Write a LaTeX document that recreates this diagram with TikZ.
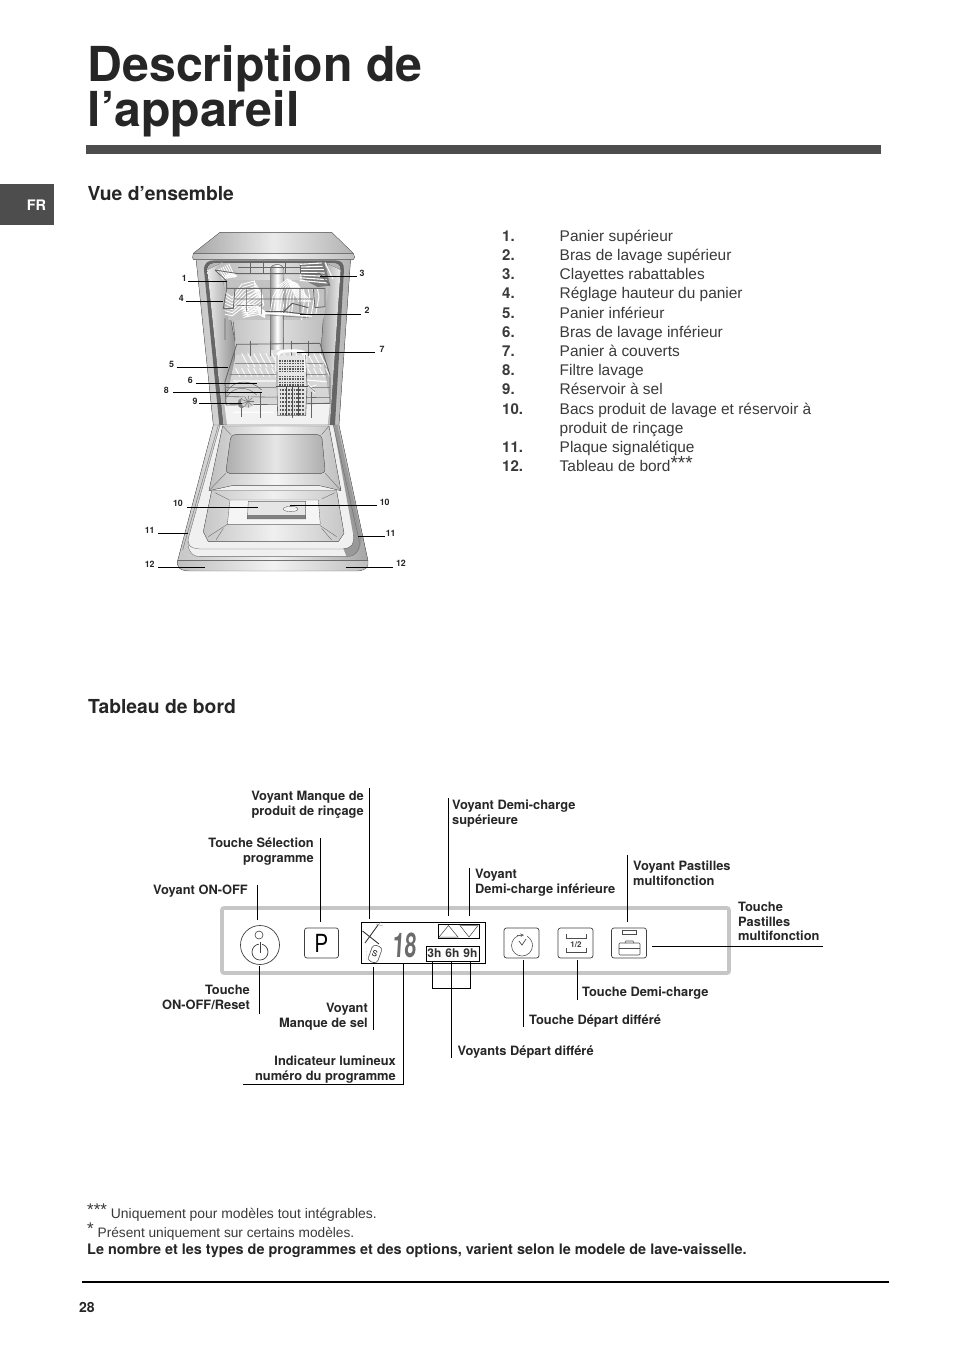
\documentclass[tikz,border=0pt]{standalone}
\usepackage{fontspec}
\setmainfont{TeX Gyre Heros}
\newfontfamily\lightfont{Liberation Sans}
\usetikzlibrary{calc}
\definecolor{darkband}{HTML}{4D4D4D}
\definecolor{bodytext}{HTML}{3A3A3A}
\definecolor{panelgrey}{HTML}{C6C6C6}
\newcommand{\fs}[1]{\fontsize{#1}{#1}\selectfont}
\newcommand{\leader}[3]{\coordinate (#1a) at (#2);\coordinate (#1b) at (#3);\draw[leaderline] (#1a) -- (#1b);}
\tikzset{
  leaderline/.style={line width=0.75pt,black},
  titletext/.style={inner sep=0,anchor=base west,font=\bfseries\fs{48.2},text=black!85},
  headtext/.style={inner sep=0,anchor=base west,font=\bfseries\fs{19.3},text=black!85},
  numtext/.style={inner sep=0,anchor=base west,font=\bfseries\fs{15},text=bodytext},
  listtext/.style={inner sep=0,anchor=base west,font=\lightfont\fs{15.45},text=bodytext},
  partno/.style={inner sep=0,font=\bfseries\fs{8.8},text=black!85},
  lblE/.style={inner sep=0,anchor=east,align=right,font=\bfseries\fontsize{12.85}{14.6}\selectfont,text=black!85},
  lblW/.style={inner sep=0,anchor=west,align=left,font=\bfseries\fontsize{12.85}{14.6}\selectfont,text=black!85},
  keybox/.style={draw=black!75,line width=0.7pt,rounded corners=2.5pt,fill=white},
  fine/.style={draw=black!60,line width=0.35pt},
  wire/.style={draw=black!60,line width=0.55pt},
  whitewire/.style={draw=white,line width=0.9pt},
}
\begin{document}
\begin{tikzpicture}[x=1pt,y=-1pt]
\useasboundingbox (0,0) rectangle (954,1350);
\fill[white] (0,0) rectangle (954,1350);
% headings
\node[titletext] (t1) at (87.5,81) {Description de};
\node[titletext] (t2) at (87.5,126) {l’appareil};
\fill[darkband] (86,145) rectangle (881,154);
\fill[darkband] (0,184) rectangle (54,225);
\node[inner sep=0,font=\bfseries\fs{14.5},text=white] (fr) at (36.5,205) {FR};
\node[headtext] (h1) at (87.5,200) {Vue d’ensemble};
\node[headtext] (h2) at (88,713) {Tableau de bord};
% list
\foreach \n/\y/\num/\txt in {
 a/241/1./Panier supérieur,
 b/260/2./Bras de lavage supérieur,
 c/279/3./Clayettes rabattables,
 d/298/4./Réglage hauteur du panier,
 e/318/5./Panier inférieur,
 f/337/6./Bras de lavage inférieur,
 g/356/7./Panier à couverts,
 h/375/8./Filtre lavage,
 i/394/9./Réservoir à sel,
 j/414/10./Bacs produit de lavage et réservoir à,
 l/452/11./Plaque signalétique}{
  \node[numtext] (n\n) at (502,\y) {\num};
  \node[listtext] (x\n) at (559.5,\y) {\txt};
}
\node[listtext] (xk) at (559.5,433) {produit de rinçage};
\node[numtext] (nm) at (502,471) {12.};
\node[listtext] (xm) at (559.5,471) {Tableau de bord\raisebox{1.5pt}{\fs{19}***}};

% ---------- dishwasher, upper part (zoom coordinates)
\begin{scope}[shift={(140,225)},x=0.3333pt,y=-0.3333pt]
 % top
 \fill[left color=black!35,right color=black!30,middle color=black!8] (240,22) -- (575,22) -- (640,85) -- (160,85) -- cycle;
 \draw[fine] (240,22) -- (575,22) -- (640,85) -- (160,85) -- cycle;
 % tub body
 \fill[left color=black!22,right color=black!30,middle color=black!5] (168,100) -- (632,100) -- (597,600) -- (220,600) -- cycle;
 \draw[fine] (168,100) -- (220,600) (632,100) -- (597,600);
 % dark gasket and interior
 \fill[black!60] (192,135) .. controls (192,112) and (205,106) .. (225,106) -- (585,106) .. controls (605,106) and (612,115) .. (612,135) -- (585,600) -- (238,600) -- cycle;
 \fill[left color=black!30,right color=black!30,middle color=black!12] (202,135) .. controls (202,118) and (212,114) .. (228,114) -- (582,114) .. controls (596,114) and (602,122) .. (602,135) -- (570,600) -- (250,600) -- cycle;
 % side walls
 \fill[left color=black!8,right color=black!42] (202,135) -- (240,116) -- (285,350) -- (278,600) -- (250,600) -- cycle;
 \fill[left color=black!42,right color=black!8] (562,116) -- (602,135) -- (570,600) -- (535,600) -- (545,350) -- cycle;
 \draw[fine] (240,116) -- (285,350) (562,116) -- (545,350);
 % front strip
 \fill[left color=black!25,right color=black!25,middle color=black!4] (160,85) -- (640,85) -- (644,97) -- (640,104) -- (160,104) -- (158,97) -- cycle;
 \draw[fine] (160,85) -- (640,85) -- (644,97) -- (640,104) -- (160,104) -- (158,97) -- cycle;
 \draw[black!45,line width=0.8pt] (350,104) -- (375,104) (415,104) -- (445,104);
 % shade behind the upper rack
 \fill[black!24] (250,165) -- (570,165) -- (550,285) -- (265,285) -- cycle;
 % central pipe
 \fill[left color=black!40,right color=black!30,middle color=white] (391,135) .. controls (391,113) and (432,113) .. (432,135) -- (430,375) -- (391,375) -- cycle;
 \draw[fine] (391,135) .. controls (391,113) and (432,113) .. (432,135) -- (430,375) (391,135) -- (391,375);

 % UPPER RACK (origin 195,90 of the drawing's grid)
 \begin{scope}[shift={(195,90)}]
  % left plate panel
  \fill[black!25] (30,42) -- (50,22) -- (98,52) -- (68,80) -- (50,82) -- cycle;
  \foreach \k in {0,...,6}{
   \draw[whitewire] ({35+\k*6},{44-\k*3}) -- ({54+\k*6},{72-\k*1}) -- ({78+\k*3},{50+\k*2});
  }
  % right flap
  \fill[black!52] (283,26) -- (358,22) -- (376,92) -- (338,96) -- (292,72) -- cycle;
  \foreach \k in {0,...,6}{\draw[white,line width=1.1pt] (284,{28+\k*8}) -- ({350+\k*3},{24+\k*10});}
  \draw[white,line width=1pt] (360,22) -- (384,72);
  % basket rails and hanging frame
  \draw[wire] (135,24) -- (135,55) (175,24) -- (175,55) (240,24) -- (240,55) (285,30) -- (285,55) (100,38) -- (285,38);
  % zigzag plate wires
  \foreach \k in {0,...,6}{
   \draw[whitewire] (60,{112+\k*11}) -- (82,{128+\k*9}) -- ({110+\k*4},{88+\k*9}) -- ({148+\k*4},{78+\k*7}) -- ({152+\k*4},{108+\k*7}) -- ({124+\k*3},{132+\k*7}) -- ({108+\k*2},{150+\k*6}) -- ({150+\k*2},{148+\k*5}) -- (180,{170+\k*3});
  }
  \foreach \k in {0,...,7}{
   \draw[whitewire] ({196+\k*9},{172+\k*1}) -- ({204+\k*9},{125-\k*1}) -- ({222+\k*7},{92+\k*1}) -- ({248+\k*4},{72+\k*2}) -- ({262+\k*4},105) -- ({282+\k*5},140);
  }
  \foreach \k in {0,...,3}{
   \draw[whitewire] ({290+\k*14},{195-\k*5}) -- ({300+\k*14},{125}) -- ({295+\k*14},{100});
  }
  % frame
  \draw[wire,line width=0.85pt] (30,45) -- (100,56) -- (345,56) -- (375,92) (30,45) -- (65,78) -- (65,100) -- (360,100) -- (360,155) -- (330,158) -- (325,100)
    (65,100) -- (55,160) -- (85,160) -- (90,100);
  \draw[wire] (125,100) -- (125,170) (170,100) -- (170,178) (240,100) -- (240,172) (285,100) -- (285,172) (90,132) -- (325,132) (95,152) -- (170,150);
  \draw[wire] (60,255) -- (60,190) (90,255) -- (85,200);
  % spray arm
  \draw[white,line width=2pt] (180,174) -- (320,182);
  \draw[black!65,line width=0.9pt] (182,170) -- (238,170) -- (320,180) (238,168) -- (262,145) -- (310,158) ;
  \draw[black!55,line width=0.5pt] (185,180) -- (310,188);
 \end{scope}

 % LOWER RACK (origin 225,330 of the drawing's grid)
 \begin{scope}[shift={(225,330)}]
  \fill[black!16] (62,60) -- (322,58) -- (345,205) -- (32,205) -- cycle;
  \fill[black!5] (28,205) -- (345,205) -- (338,270) -- (36,270) -- cycle;
  \foreach \k in {0,...,13}{\draw[whitewire,line width=0.9pt] ({80+\k*18},55) -- ({102+\k*18},96);}
  \foreach \k in {0,...,15}{\draw[whitewire,line width=0.8pt] ({62+\k*18},100) -- ({75+\k*18},125);}
  \draw[white,line width=1.2pt] (55,138) -- (185,138) (270,135) -- (335,140) (55,232) -- (175,232);
  % rack wires
  \draw[wire,line width=0.85pt] (65,28) -- (315,25) -- (345,120) -- (345,205) -- (33,210) -- (30,140) -- cycle;
  \draw[wire] (60,85) -- (325,85) (45,118) -- (335,118) (30,158) -- (345,158) (35,185) -- (345,188);
  \draw[wire] (105,18) -- (105,62) (165,18) -- (165,62) (228,18) -- (228,62) (280,18) -- (280,62);
  \draw[wire] (80,190) -- (80,245) (137,170) -- (137,248) (232,190) -- (232,248) (290,170) -- (290,248);
  % filter curves
  \draw[black!60,line width=0.5pt] (35,170) .. controls (60,130) and (110,135) .. (140,165);
  \draw[black!55,line width=0.5pt] (35,185) .. controls (60,150) and (100,155) .. (125,180);
  % salt reservoir
  \fill[black!50] (80,205) ellipse (12 and 15);
  \fill[black!18] (98,200) ellipse (20 and 18);
  \foreach \a in {0,40,...,320}{\draw[black!55,line width=0.5pt] (98,200) -- ++(\a:18);}
  % right detail
  \draw[white,line width=0.8pt] (270,160) -- (305,150) (280,145) -- (300,175);
  \draw[black!55,line width=0.4pt] (278,150) -- (300,170);
  % cutlery basket
  \fill[black!10] (186,62) -- (272,62) -- (275,150) -- (272,242) -- (188,242) -- (183,150) -- cycle;
  \draw[white,line width=3pt] (186,110) -- (186,66) .. controls (190,50) and (200,48) .. (215,48) -- (245,48) .. controls (262,48) and (272,52) .. (272,66) -- (272,110);
  \foreach \y in {78,86,94,102,110,124,132,142,150}{\draw[black!65,densely dotted,line width=1.6pt] (192,\y) -- (266,\y);}
  \foreach \y in {165,177,189,201,213,225,237}{\draw[black!65,densely dotted,line width=1.8pt] (194,\y) -- (268,\y);}
  \draw[black!60,line width=0.6pt] (186,60) -- (186,155) -- (188,242) -- (272,242) -- (276,155) -- (272,60);
  \draw[black!70,line width=0.8pt] (183,155) -- (278,155);
  \foreach \x in {215,232,250}{\draw[black!70,line width=0.7pt] (\x,155) -- (\x,243);}
 \end{scope}

 % leaders
 \leader{p1}{145,170}{262,170}
 \leader{p4}{138,230}{250,230}
 \leader{p3}{540,155}{650,155}
 \leader{p2}{480,268}{662,268}
 \leader{p7}{470,381}{705,381}
 \leader{p5}{110,428}{265,428}
 \leader{p6}{168,475}{350,475}
 \leader{p8}{100,501}{365,501}
 \leader{p9}{178,535}{305,535}
 \node[partno] (q1) at (133,160) {1};
 \node[partno] (q4) at (124,221) {4};
 \node[partno] (q3) at (666,146) {3};
 \node[partno] (q2) at (681,256) {2};
 \node[partno] (q7) at (726,372) {7};
 \node[partno] (q5) at (95,419) {5};
 \node[partno] (q6) at (151,465) {6};
 \node[partno] (q8) at (79,495) {8};
 \node[partno] (q9) at (165,528) {9};
\end{scope}

% ---------- dishwasher, door (zoom coordinates)
\begin{scope}[shift={(140,400)},x=0.3333pt,y=-0.3333pt]
 % door
 \fill[left color=black!22,right color=black!35,middle color=black!6] (220,75) -- (597,75) -- (684,482) -- (113,482) -- cycle;
 \draw[fine] (220,75) -- (597,75) -- (684,482) -- (113,482) -- cycle;
 \draw[fine] (235,75) -- (128,450);
 % basin
 \fill[black!6] (240,75) -- (580,75) -- (655,410) .. controls (665,445) and (650,470) .. (620,470) -- (180,470) .. controls (155,470) and (140,450) .. (145,415) -- cycle;
 \fill[black!40] (580,75) -- (592,75) -- (665,410) .. controls (665,445) and (650,470) .. (620,470) -- (610,445) .. controls (635,445) and (645,430) .. (640,405) -- cycle;
 \draw[fine] (240,75) -- (580,75) -- (655,410) .. controls (665,445) and (650,470) .. (620,470) -- (180,470) .. controls (155,470) and (140,450) .. (145,415) -- cycle;
 \draw[fine] (145,425) .. controls (145,445) and (165,445) .. (180,447) -- (610,447) .. controls (635,445) and (645,430) .. (640,405);
 % upper recess
 \fill[left color=black!25,right color=black!25,middle color=black!4] (248,78) -- (567,78) -- (603,272) -- (535,256) -- (280,256) -- (207,272) -- cycle;
 \draw[fine] (248,78) -- (567,78) -- (603,272) -- (535,256) -- (280,256) -- (207,272) -- cycle;
 \fill[left color=black!32,right color=black!32,middle color=black!10,rounded corners=4pt] (273,104) -- (545,104) -- (556,220) -- (257,220) -- cycle;
 \draw[fine,rounded corners=4pt] (273,104) -- (545,104) -- (556,220) -- (257,220) -- cycle;
 \draw[fine] (248,78) -- (273,104) (567,78) -- (545,104) (257,220) -- (207,272) (556,220) -- (603,272);
 % lower recess
 \fill[left color=black!22,right color=black!22,middle color=black!6] (215,272) -- (590,272) -- (612,400) -- (595,425) -- (205,425) -- (190,395) -- cycle;
 \draw[fine] (215,272) -- (190,395) -- (205,425) -- (595,425) -- (612,400) -- (590,272);
 \fill[black!4] (270,300) -- (535,300) -- (541,373) -- (262,373) -- cycle;
 \draw[fine] (270,300) -- (535,300) -- (541,373) -- (262,373) -- cycle;
 \draw[fine] (225,278) -- (268,300) (545,297) -- (585,278) (262,373) -- (205,410) (228,420) -- (250,385) (541,377) -- (590,410) (575,420) -- (545,385);
 % dispenser
 \fill[black!10] (325,304) -- (497,304) -- (497,357) -- (322,357) -- cycle;
 \fill[black!50] (322,345) -- (497,345) -- (497,357) -- (322,357) -- cycle;
 \draw[fine] (325,304) -- (497,304) -- (497,357) -- (322,357) -- cycle;
 \draw[black!60,line width=0.4pt,fill=black!5] (452,327) ellipse (22 and 8);
 % front strip
 \fill[left color=black!25,right color=black!25,middle color=black!5] (113,482) -- (684,482) -- (684,495) .. controls (680,508) and (665,513) .. (650,513) -- (150,513) .. controls (130,513) and (115,508) .. (113,495) -- cycle;
 \draw[fine] (113,482) -- (684,482) -- (684,495) .. controls (680,508) and (665,513) .. (650,513) -- (150,513) .. controls (130,513) and (115,508) .. (113,495) -- cycle;
 % leaders
 \leader{p10l}{140,322}{355,322}
 \leader{p10r}{450,316}{710,316}
 \leader{p11l}{55,400}{145,400}
 \leader{p11r}{655,408}{735,408}
 \leader{p12l}{55,503}{195,503}
 \leader{p12r}{618,503}{760,503}
 \node[partno] (q10l) at (114,310) {10};
 \node[partno] (q10r) at (734,306) {10};
 \node[partno] (q11l) at (29,390) {11};
 \node[partno] (q11r) at (752,399) {11};
 \node[partno] (q12l) at (29,493) {12};
 \node[partno] (q12r) at (783,489) {12};
\end{scope}

% ---------- control panel
\draw[panelgrey,line width=3.6pt,rounded corners=2pt] (222,908) rectangle (729,973);
\node[draw=black!75,line width=0.7pt,circle,minimum size=39pt,inner sep=0] (onoff) at (260,945) {};
\node[draw=black!75,line width=0.6pt,circle,minimum size=8pt,inner sep=0] (onled) at (259,935) {};
\node[draw=black!75,line width=0.7pt,circle,minimum size=16pt,inner sep=0] (onring) at (260,952) {};
\draw[white,line width=3pt] (260,943) -- (260,946);
\draw[black!75,line width=0.7pt] (260,942) -- (260,953);
\node[keybox,minimum width=34pt,minimum height=30pt,inner sep=0,font=\lightfont\fs{24}] (pkey) at (321.5,943) {\scalebox{0.85}[1.1]{P}};
\node[draw=black,line width=0.8pt,minimum width=124pt,minimum height=41pt,inner sep=0] (disp) at (423.5,942.5) {};
\node[draw=black,line width=0.8pt,minimum width=41pt,minimum height=14pt,inner sep=0] (arrows) at (458.5,931) {};
\draw[black!75,line width=0.5pt] (439,937) -- (448.5,925.5) -- (458,937) -- cycle;
\draw[black!75,line width=0.5pt] (460,925.5) -- (478,925.5) -- (469,937) -- cycle;
\node[draw=black,line width=0.8pt,minimum width=53pt,minimum height=15pt,inner sep=0,font=\bfseries\fs{12},text=black!80] (hours) at (452.5,953.5) {3h\hspace{4pt}6h\hspace{4pt}9h};
\node[inner sep=0,font=\bfseries\fs{34},text=black!58] (seg) at (404.5,945.5) {\scalebox{0.62}[1]{\fontspec{TeX Gyre Heros}[FakeSlant=0.1]18}};
% salt and rinse symbols
\draw[black!80,line width=0.9pt] (362.5,931) -- (379,944) (365,943) -- (378,925);
\draw[black!50,line width=0.35pt] (378,925) -- (381,921.5) (376,924) -- (383,926);
\node[draw=black!70,line width=0.6pt,rounded corners=3.5pt,rotate=-20,minimum width=10pt,minimum height=17pt,inner sep=0,font=\fs{8}] (salt) at (375,954) {S};
\draw[black!30,densely dotted] (366,947) -- (367,960);
% right keys
\node[keybox,minimum width=35pt,minimum height=30pt,inner sep=0] (delay) at (521.5,943) {};
\draw[black!65,line width=0.6pt] (522,935) arc (90:420:10.5pt);
\draw[black!65,line width=0.6pt,-stealth] (517,935.5) -- (524,935);
\draw[black!70,line width=0.7pt] (519,941) -- (522,945) -- (526,939);
\node[keybox,minimum width=35pt,minimum height=30pt,inner sep=0] (half) at (575.5,943) {};
\draw[black!70,line width=0.7pt] (566,934) -- (566,938) -- (586,938) -- (586,934);
\draw[black!70,line width=0.7pt] (566,948) -- (566,952) -- (586,952) -- (586,948);
\node[inner sep=0,font=\bfseries\fs{8},text=black!75] (halft) at (576,945) {1/2};
\node[keybox,minimum width=35pt,minimum height=30pt,inner sep=0] (tab) at (629,943) {};
\draw[black!70,line width=0.6pt] (622,930.5) rectangle (636,934.5);
\draw[black!70,line width=0.6pt,rounded corners=1pt] (619,943) rectangle (640,955);
\draw[black!70,line width=0.6pt] (619,948.5) -- (640,948.5);
\draw[black!70,line width=0.6pt] (625,943) -- (626,941) -- (633,941) -- (634,943);

% panel leaders
\leader{a1}{257,885}{257,920}
\leader{a2}{259.5,966}{259.5,1014}
\leader{a3}{320.5,838}{320.5,922}
\leader{a4}{369,788}{369,919}
\leader{a5}{448,798}{448,916}
\leader{a6}{469,868}{469,916}
\leader{a7}{373.5,967}{373.5,1030}
\coordinate (a8a) at (403.5,963);\coordinate (a8b) at (403.5,1084.5);\coordinate (a8c) at (243,1084.5);
\draw[leaderline] (a8a) -- (a8b) -- (a8c);
\coordinate (a9a) at (432,962);\coordinate (a9b) at (432,988);\coordinate (a9c) at (470,988);\coordinate (a9d) at (470,962);
\draw[leaderline] (a9a) -- (a9b) -- (a9c) -- (a9d);
\leader{a10}{451,962}{451,1058}
\leader{a11}{523.5,960}{523.5,1027}
\leader{a12}{577.5,960}{577.5,1000}
\leader{a13}{627.5,855}{627.5,922}
\leader{a14}{652,946}{823,946}

% panel labels
\node[lblE] (b1) at (364,804.5) {Voyant Manque de\\produit de rinçage};
\node[lblE] (b2) at (314,851.5) {Touche Sélection\\programme};
\node[lblE] (b3) at (248,891.5) {Voyant ON-OFF};
\node[lblE] (b4) at (250,997.5) {Touche\\ON-OFF/Reset};
\node[lblE] (b5) at (368,1016.5) {Voyant\\Manque de sel};
\node[lblE] (b6) at (396,1069.5) {Indicateur lumineux\\numéro du programme};
\node[lblW] (b7) at (452,813.5) {Voyant Demi-charge\\supérieure};
\node[lblW] (b8) at (475,882.5) {Voyant\\Demi-charge inférieure};
\node[lblW] (b9) at (633,873.5) {Voyant Pastilles\\multifonction};
\node[lblW] (b10) at (738,921.5) {Touche\\Pastilles\\multifonction};
\node[lblW] (b11) at (582,993.5) {Touche Demi-charge};
\node[lblW] (b12) at (529,1021.5) {Touche Départ différé};
\node[lblW] (b13) at (457.5,1052.5) {Voyants Départ différé};

% footnotes
\node[inner sep=0,anchor=base west,font=\lightfont\fs{14},text=bodytext] (f1) at (87,1218) {\raisebox{2.5pt}{\fs{17}***} \fs{13.9}Uniquement pour modèles tout intégrables.};
\node[inner sep=0,anchor=base west,font=\lightfont\fs{13.7},text=bodytext] (f2) at (87,1237) {\raisebox{2.5pt}{\fs{17}*} \fs{13.7}Présent uniquement sur certains modèles.};
\node[inner sep=0,anchor=base west,font=\bfseries\fs{14.44},text=black!85] (f3) at (87,1254.5) {Le nombre et les types de programmes et des options, varient selon le modele de lave-vaisselle.};
\draw[black,line width=1.5pt] (82,1282) -- (889,1282);
\node[inner sep=0,anchor=base west,font=\bfseries\fs{14},text=black!85] (pg) at (79,1312) {28};
\end{tikzpicture}
\end{document}
